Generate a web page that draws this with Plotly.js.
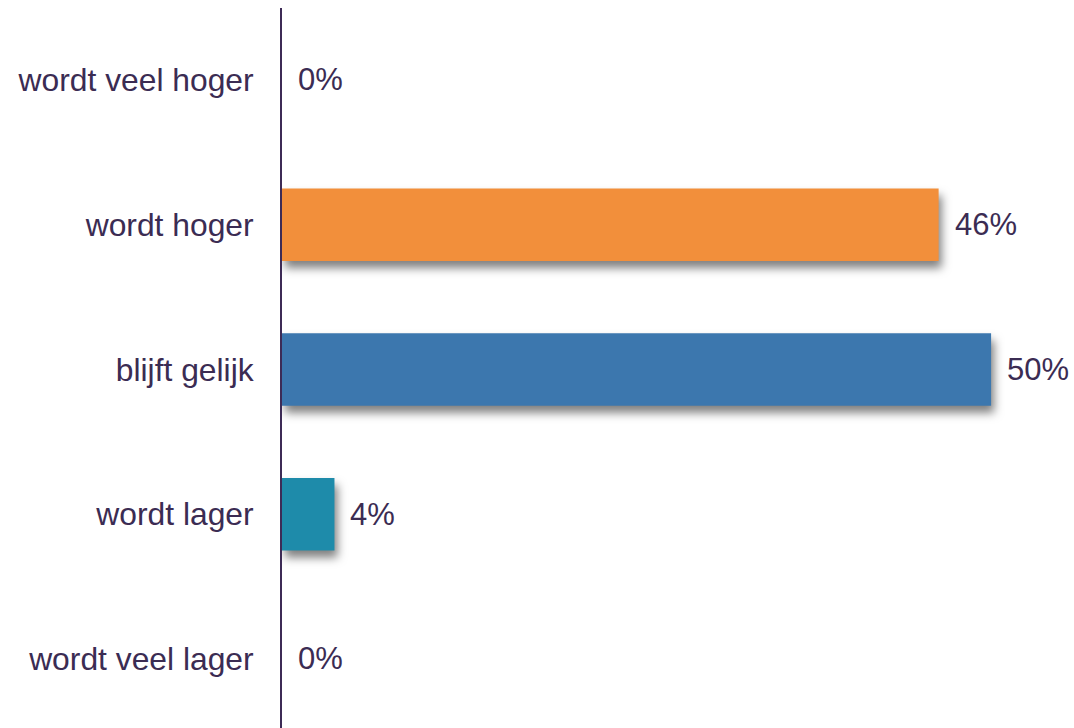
<!DOCTYPE html>
<html>
<head>
<meta charset="utf-8">
<script src="https://cdn.plot.ly/plotly-3.0.1.min.js"></script>
<style>
html,body{margin:0;padding:0;background:#fff;}
#chart{width:1074px;height:728px;}
.bars .point path{filter:drop-shadow(3px 7px 5px rgba(0,0,0,0.5));}
</style>
</head>
<body>
<div id="chart"></div>
<script>
const categories = ["wordt veel hoger","wordt hoger","blijft gelijk","wordt lager","wordt veel lager"];
const values = [0, 46.3, 50, 3.7, 0];
const labels = ["0%","46%","50%","4%","0%"];
const colors = ["#F28F3B","#F28F3B","#3C77AE","#1E8BAA","#1E8BAA"];

const textColor = "#3B2C53";
const font = {family:"Liberation Sans, Arial, sans-serif", size:31, color:textColor};
const tickFont = {family:"Liberation Sans, Arial, sans-serif", size:31.8, color:textColor};

const trace = {
  type:"bar",
  orientation:"h",
  y:categories,
  x:values,
  marker:{color:colors, line:{width:0}},
  width:0.5,
  hoverinfo:"none"
};

const annotations = categories.map((c,i)=>({
  x:values[i], y:c, xref:"x", yref:"y",
  text:labels[i], showarrow:false,
  xanchor:"left", yanchor:"middle", xshift:14,
  font:font
}));

const layout = {
  width:1074, height:728,
  margin:{l:282, r:12, t:8, b:0},
  paper_bgcolor:"#fff", plot_bgcolor:"#fff",
  showlegend:false,
  font:font,
  xaxis:{range:[0,55], showgrid:false, zeroline:false, showticklabels:false, showline:false, fixedrange:true},
  yaxis:{categoryorder:"array", categoryarray:categories, range:[4.477,-0.497],
         showgrid:false, zeroline:false, showline:true, linecolor:"#3D2B56", linewidth:2,
         ticks:"", ticklabelstandoff:20, tickfont:tickFont},
  annotations:annotations
};

Plotly.newPlot("chart",[trace],layout,{displayModeBar:false, staticPlot:true});
</script>
</body>
</html>
